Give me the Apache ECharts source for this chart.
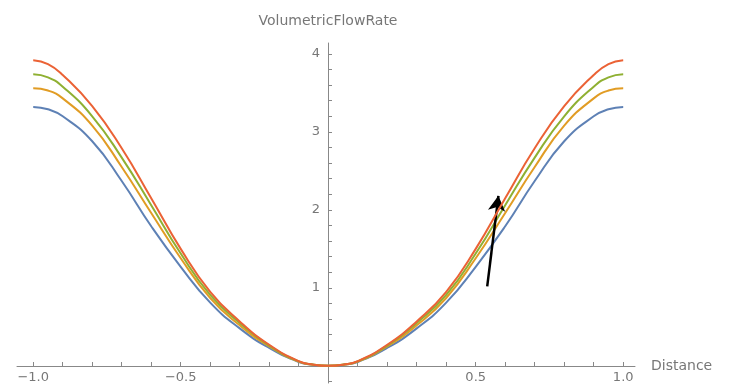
<!DOCTYPE html>
<html>
<head>
<meta charset="utf-8">
<script src="https://cdn.jsdelivr.net/npm/echarts@6/dist/echarts.min.js"></script>
<style>html,body{margin:0;padding:0;background:#fff}#c{width:734px;height:391px}</style>
</head>
<body>
<div id="c"></div>
<script>
// Distance values
const xs = [-1, -0.95, -0.9, -0.8, -0.7, -0.6, -0.5, -0.4, -0.3, -0.2, -0.1, -0.05, 0, 0.05, 0.1, 0.2, 0.3, 0.4, 0.5, 0.6, 0.7, 0.8, 0.9, 0.95, 1];
// VolumetricFlowRate curves
const blue   = [3.32, 3.29, 3.20, 2.88, 2.37, 1.79, 1.27, 0.81, 0.48, 0.23, 0.05, 0.013, 0, 0.013, 0.05, 0.23, 0.48, 0.81, 1.27, 1.79, 2.37, 2.88, 3.20, 3.29, 3.32];
const yellow = [3.56, 3.53, 3.43, 3.08, 2.55, 1.96, 1.38, 0.87, 0.52, 0.25, 0.055, 0.014, 0, 0.014, 0.055, 0.25, 0.52, 0.87, 1.38, 1.96, 2.55, 3.08, 3.43, 3.53, 3.56];
const green  = [3.74, 3.70, 3.58, 3.20, 2.67, 2.06, 1.44, 0.91, 0.55, 0.26, 0.058, 0.015, 0, 0.015, 0.058, 0.26, 0.55, 0.91, 1.44, 2.06, 2.67, 3.20, 3.58, 3.70, 3.74];
const red    = [3.92, 3.87, 3.73, 3.33, 2.79, 2.15, 1.50, 0.95, 0.57, 0.27, 0.06, 0.015, 0, 0.015, 0.06, 0.27, 0.57, 0.95, 1.50, 2.15, 2.79, 3.33, 3.73, 3.87, 3.92];
// tick positions and labels
const xTicks = [-1, -0.9, -0.8, -0.7, -0.6, -0.5, -0.4, -0.3, -0.2, -0.1, 0, 0.1, 0.2, 0.3, 0.4, 0.5, 0.6, 0.7, 0.8, 0.9, 1];
const xLabels = [-1, -0.5, 0.5, 1];
const yTicks = [-0.2, 0, 0.2, 0.4, 0.6, 0.8, 1, 1.2, 1.4, 1.6, 1.8, 2, 2.2, 2.4, 2.6, 2.8, 3, 3.2, 3.4, 3.6, 3.8, 4];
const yLabels = [1, 2, 3, 4];
// annotation arrow (data coords)
const arrowFrom = [0.539, 1.02];
const arrowTo = [0.577, 2.18];

const names = ['s1', 's2', 's3', 's4'];
const colors = ['#5E81B5', '#E19C24', '#8FB032', '#EB6235'];
const sets = [blue, yellow, green, red];

const axisGray = '#888';
const textGray = '#777';
const font = 'DejaVu Sans';

const series = sets.map((vals, i) => ({
  name: names[i],
  type: 'line',
  data: xs.map((x, j) => [x, vals[j]]),
  smooth: 0.5,
  showSymbol: false,
  symbol: 'none',
  lineStyle: { color: colors[i], width: 2 },
  z: 2 + i
}));
series.push({
  type: 'line',
  data: [],
  z: 10,
  markLine: {
    silent: true,
    symbol: ['none', 'arrow'],
    symbolSize: [13, 15],
    label: { show: false },
    lineStyle: { color: '#000', width: 2.5, type: 'solid' },
    data: [[{ coord: arrowFrom }, { coord: arrowTo }]]
  }
});

const chart = echarts.init(document.getElementById('c'), null, { renderer: 'canvas' });
chart.setOption({
  animation: false,
  backgroundColor: '#fff',
  grid: { left: 17, right: 99, top: 43, bottom: 8, containLabel: false, outerBoundsMode: 'none' },
  xAxis: {
    type: 'value',
    min: -1.055,
    max: 1.04,
    offset: -17,
    name: 'Distance',
    nameLocation: 'end',
    nameGap: 16,
    nameTextStyle: { color: textGray, fontFamily: font, fontSize: 14, verticalAlign: 'middle' },
    axisLine: { onZero: false, lineStyle: { color: axisGray, width: 1 } },
    axisTick: { show: true, inside: true, length: 4, customValues: xTicks, lineStyle: { color: axisGray } },
    axisLabel: {
      customValues: xLabels, color: textGray, fontFamily: font, fontSize: 13, margin: 5,
      formatter: v => (v < 0 ? '\u2212' + Math.abs(v).toFixed(1) : v.toFixed(1))
    },
    splitLine: { show: false }
  },
  yAxis: {
    type: 'value',
    min: -0.22,
    max: 4.14,
    offset: -311,
    name: 'VolumetricFlowRate',
    nameLocation: 'end',
    nameGap: 15,
    nameTextStyle: { color: textGray, fontFamily: font, fontSize: 14, align: 'center' },
    axisLine: { onZero: false, lineStyle: { color: axisGray, width: 1 } },
    axisTick: { show: true, inside: true, length: 4, customValues: yTicks, lineStyle: { color: axisGray } },
    axisLabel: { customValues: yLabels, color: textGray, fontFamily: font, fontSize: 13, margin: 8, formatter: v => String(v) },
    splitLine: { show: false }
  },
  series: series
});
</script>
</body>
</html>
